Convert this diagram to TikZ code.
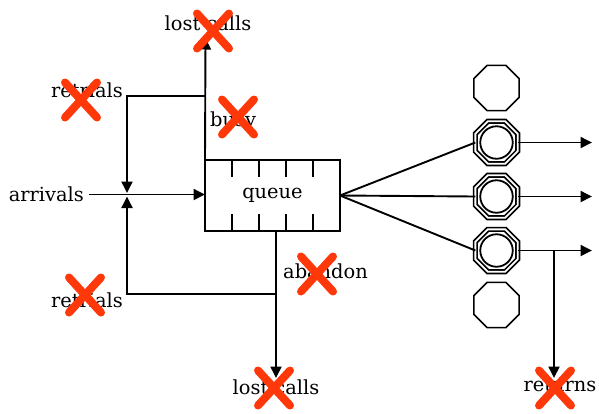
\documentclass[tikz,border=0pt]{standalone}
\usepackage{fontspec}
\setmainfont{DejaVu Serif}
\usetikzlibrary{arrows.meta,shapes.geometric,calc}
\definecolor{crossred}{RGB}{255,56,10}
\begin{document}
\begin{tikzpicture}[x=1pt,y=-1pt,
  lbl/.style={font=\fontsize{19.4}{23}\selectfont, inner sep=0pt},
  conn/.style={line width=1.9pt},
  arr/.style={conn,-{Triangle[length=11.5pt,width=11pt]}},
  server/.style={draw,line width=1.7pt,regular polygon,regular polygon sides=8,
    minimum size=49pt,inner sep=0pt,outer sep=0pt},
  busysrv/.style={server,double,double distance=1.8pt,minimum size=45.8pt},
  core/.style={draw,circle,line width=1.8pt,minimum size=32.5pt,inner sep=0pt},
  qbox/.style={draw,line width=2.2pt,minimum width=135pt,minimum height=71pt,
    inner sep=0pt,outer sep=0pt},
  xmark/.style={draw=crossred,line width=8pt,line cap=round}]
\useasboundingbox (0,0) rectangle (599,413);
\fill[white] (0,0) rectangle (599,413);

% queue with its slot ticks
\node[qbox,lbl] (queue) at (272.5,195.5) {queue};
\foreach \i in {1,...,4}{
  \draw[line width=2.2pt] ($(queue.north west)+(27*\i,0)$) -- ++(0,17);
  \draw[line width=2.2pt] ($(queue.south west)+(27*\i,0)$) -- ++(0,-17);
}

% servers
\node[server]  (s1) at (496.5,88)  {};
\node[busysrv] (s2) at (496.5,142.5) {};
\node[busysrv] (s3) at (496.5,196.5) {};
\node[busysrv] (s4) at (496.5,250.5) {};
\node[server]  (s5) at (496.5,305) {};
\foreach \s in {s2,s3,s4}{ \node[core] at (\s) {}; }

% labels
\node[lbl] (lostTop) at (208,23) {lost calls};
\node[lbl,anchor=east] (retrTop) at (123,90) {retrials};
\node[lbl,anchor=west] (busy) at (210,121) {busy};
\node[lbl,anchor=east] (arrivals) at (84,194) {arrivals};
\node[lbl,anchor=east] (retrBot) at (123,300) {retrials};
\node[lbl] (lostBot) at (276,387) {lost calls};
\node[lbl,anchor=west] (abandon) at (283,271) {abandon};
\node[lbl] (returns) at (560,385) {returns};

% connector end points
\coordinate (arrStart) at (89,194.5);
\coordinate (lostTopTip) at (205.5,38);
\coordinate (busyJoin) at (205.5,96);
\coordinate (retrTopTip) at (127,193);
\coordinate (retrBotTip) at (127,196.5);
\coordinate (abJoin) at (276,294);
\coordinate (lostBotTip) at (276,378);
\coordinate (o2) at (592,142.5);
\coordinate (o3) at (592,196.5);
\coordinate (o4) at (592,250.5);
\coordinate (retJoin) at (554,250.5);
\coordinate (returnsTip) at (554,378);

% arrivals and the blocked / retrial flows
\draw[arr] (arrStart) -- (queue.west |- arrStart);
\draw[arr] (queue.north west) -- (lostTopTip);
\draw[arr] (busyJoin) -| (retrTopTip);
\draw[conn] (queue.south -| abJoin) -- (abJoin);
\draw[arr] (abJoin) -- (lostBotTip);
\draw[arr] (abJoin) -| (retrBotTip);

% dispatch to servers and departures
\foreach \s in {s2,s3,s4}{ \draw[conn] (queue.east) -- (\s.west); }
\draw[arr] (s2.east) -- (o2);
\draw[arr] (s3.east) -- (o3);
\draw[arr] (s4.east) -- (o4);
\draw[arr] (retJoin) -- (returnsTip);

% crossed-out labels
\foreach \c in {(213,31),(81,100),(238,117),(85,295),(317,274),(274,388),(555,388)}{
  \draw[xmark] \c ++(-16,-17.5) -- ++(32,35);
  \draw[xmark] \c ++(16,-17.5) -- ++(-32,35);
}
\end{tikzpicture}
\end{document}
